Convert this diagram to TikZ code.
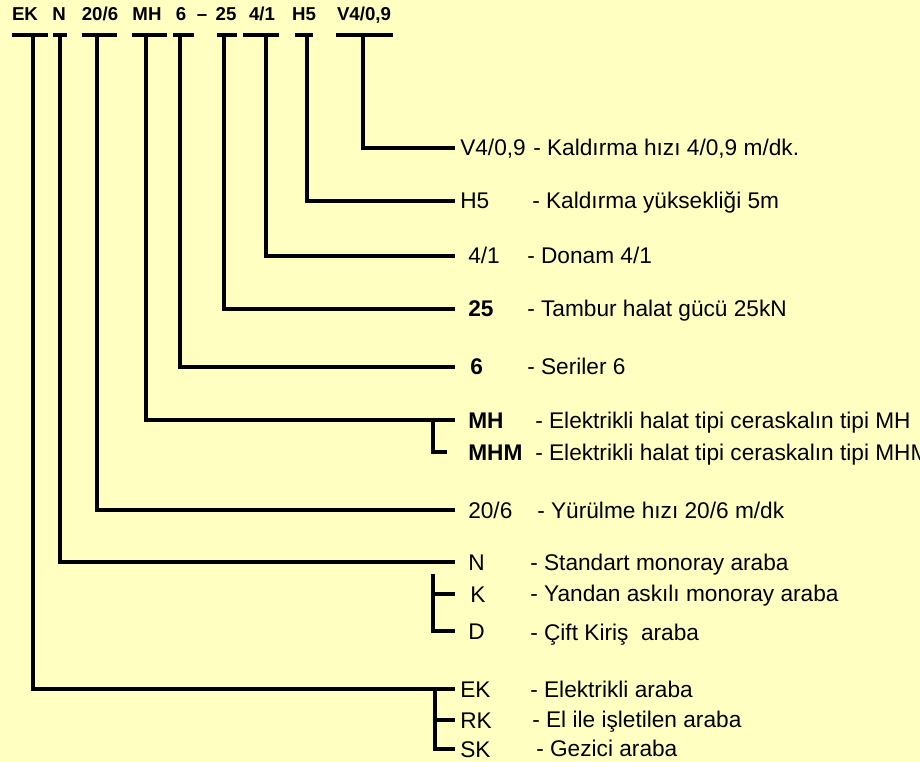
\documentclass[tikz,border=0pt]{standalone}
\usepackage{fontspec}
\setmainfont{Liberation Sans}
\definecolor{bgyellow}{RGB}{255,255,194}
\tikzset{
  bar/.style={line width=2.5pt},
  code/.style={inner sep=0pt,text height=11pt,text depth=1pt,
    font=\fontsize{14}{16}\selectfont\bfseries},
  lbl/.style={anchor=west,inner sep=0pt,text height=14pt,text depth=2pt,
    font=\fontsize{17}{20}\selectfont},
  desc/.style={anchor=west,inner sep=0pt,text height=14pt,text depth=2pt,
    font=\fontsize{17}{20}\selectfont},
}

\begin{document}
\begin{tikzpicture}[x=0.75pt,y=-0.75pt]
      \fill[bgyellow] (0,0) rectangle (920,762) ;
      \useasboundingbox (0,0) rectangle (920,762) ;
      % codes on top
      \node[code] (cEK) at (25,14) {EK} ;
      \node[code] (cN) at (59,14) {N} ;
      \node[code] (c206) at (100,14) {20/6} ;
      \node[code] (cMH) at (147,14) {MH} ;
      \node[code] (c6) at (181,14) {6} ;
      \node[code] (cDash) at (202,14) {--} ;
      \node[code] (c25) at (226,14) {25} ;
      \node[code] (c41) at (262,14) {4/1} ;
      \node[code] (cH5) at (304,14) {H5} ;
      \node[code] (cV) at (364,14) {V4/0,9} ;
      % bars under the codes
      \draw[bar] (12,35)--(48,35) ;
      \draw[bar] (53,35)--(67,35) ;
      \draw[bar] (82,35)--(117,35) ;
      \draw[bar] (132,35)--(167,35) ;
      \draw[bar] (173,35)--(194,35) ;
      \draw[bar] (217,35)--(237,35) ;
      \draw[bar] (243,35)--(279,35) ;
      \draw[bar] (295,35)--(313,35) ;
      \draw[bar] (336,35)--(393,35) ;
      \coordinate (sEK) at (33,35) ;
      \coordinate (sN) at (60,35) ;
      \coordinate (s206) at (97,35) ;
      \coordinate (sMH) at (146,35) ;
      \coordinate (s6) at (180,35) ;
      \coordinate (s25) at (224,35) ;
      \coordinate (s41) at (266,35) ;
      \coordinate (sH5) at (307,35) ;
      \coordinate (sV) at (363,35) ;
      % labels and meanings
      \node[lbl] (lV) at (460,148) {V4/0,9} ;
      \node[desc] (dV) at (533,148) {- Kaldırma hızı 4/0,9 m/dk.} ;
      \node[lbl] (lH5) at (460,201) {H5} ;
      \node[desc] (dH5) at (532,201) {- Kaldırma yüksekliği 5m} ;
      \node[lbl] (l41) at (468,256) {4/1} ;
      \node[desc] (d41) at (527,256) {- Donam 4/1} ;
      \node[lbl,font=\fontsize{17}{20}\selectfont\bfseries] (l25) at (468,309) {25} ;
      \node[desc] (d25) at (527,309) {- Tambur halat gücü 25kN} ;
      \node[lbl,font=\fontsize{17}{20}\selectfont\bfseries] (l6) at (470,367) {6} ;
      \node[desc] (d6) at (527,367) {- Seriler 6} ;
      \node[lbl,font=\fontsize{17}{20}\selectfont\bfseries] (lMH) at (468,420) {MH} ;
      \node[desc] (dMH) at (535,420) {- Elektrikli halat tipi ceraskalın tipi MH} ;
      \node[lbl,font=\fontsize{17}{20}\selectfont\bfseries] (lMHM) at (468,452) {MHM} ;
      \node[desc] (dMHM) at (535,452) {- Elektrikli halat tipi ceraskalın tipi MHM} ;
      \node[lbl] (l206) at (468,510) {20/6} ;
      \node[desc] (d206) at (537,510) {- Yürülme hızı 20/6 m/dk} ;
      \node[lbl] (lN) at (468,562) {N} ;
      \node[desc] (dN) at (530,562) {- Standart monoray araba} ;
      \node[lbl] (lK) at (470,594) {K} ;
      \node[desc] (dK) at (530,593) {- Yandan askılı monoray araba} ;
      \node[lbl] (lD) at (468,631) {D} ;
      \node[desc] (dD) at (530,632) {- Çift Kiriş~ araba} ;
      \node[lbl] (lEK) at (460,689) {EK} ;
      \node[desc] (dEK) at (530,689) {- Elektrikli araba} ;
      \node[lbl] (lRK) at (460,720) {RK} ;
      \node[desc] (dRK) at (532,719) {- El ile işletilen araba} ;
      \node[lbl] (lSK) at (460,749) {SK} ;
      \node[desc] (dSK) at (536,748) {- Gezici araba} ;
      % connectors
      \draw[bar,shorten >=3.5pt] (sV) |- (lV.west) ;
      \draw[bar,shorten >=3.5pt] (sH5) |- (lH5.west) ;
      \draw[bar,shorten >=9.5pt] (s41) |- (l41.west) ;
      \draw[bar,shorten >=9.5pt] (s25) |- (l25.west) ;
      \draw[bar,shorten >=11pt] (s6) |- (l6.west) ;
      \draw[bar,shorten >=9.5pt] (sMH) |- (lMH.west) ;
      \draw[bar,shorten >=9.5pt] (s206) |- (l206.west) ;
      \draw[bar,shorten >=9.5pt] (sN) |- (lN.west) ;
      \draw[bar,shorten >=3.5pt] (sEK) |- (lEK.west) ;
      % branches
      \coordinate (kMH) at (433,420) ;
      \coordinate (kN) at (433,574) ;
      \coordinate (kEK) at (435,689) ;
      \draw[bar,shorten >=15.5pt] (kMH) |- (lMHM.west) ;
      \draw[bar,shorten >=11pt] (kN) |- (lK.west) ;
      \draw[bar,shorten >=9.5pt] (kN) |- (lD.west) ;
      \draw[bar,shorten >=3.5pt] (kEK) |- (lRK.west) ;
      \draw[bar,shorten >=3.5pt] (kEK) |- (lSK.west) ;
    \end{tikzpicture}
\end{document}
